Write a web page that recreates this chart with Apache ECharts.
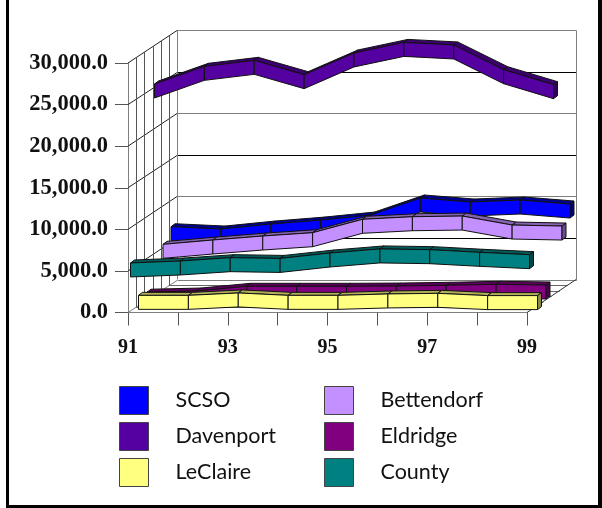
<!DOCTYPE html>
<html><head><meta charset="utf-8">
<style>html,body{margin:0;padding:0;background:#fff}#c{width:602px;height:508px}</style>
<script src="https://cdn.jsdelivr.net/npm/echarts@6/dist/echarts.min.js"></script>
</head><body><div id="c"></div>
<script>
const categories = ['91','92','93','94','95','96','97','98','99'];
const SCSO = [5990,5710,6310,6790,7390,9440,8960,9200,8720];
const Bettendorf = [4520,5040,5520,5920,7530,7840,7920,6840,6720];
const Davenport = [24490,26610,27330,25610,28220,29490,29180,26210,24410];
const Eldridge = [60,200,770,770,770,800,890,1010,925];
const LeClaire = [370,370,660,370,370,540,610,340,340];
const County = [4910,5150,5550,5460,6110,6600,6510,6190,5910];
const yTicks = [0,5000,10000,15000,20000,25000,30000];

const DEPTH_X = 49, DEPTH_Y = 33, THICK = 7, SIDE_X = 4, SIDE_Y = 3;
const styles = [
  {name:'SCSO',data:SCSO,dx:43,color:'#0000ff',top:'#000090',side:'#000070'},
  {name:'Bettendorf',data:Bettendorf,dx:35,color:'#c48fff',top:'#8562ad',side:'#6a4e8c'},
  {name:'Davenport',data:Davenport,dx:26.5,color:'#5500a0',top:'#3c0072',side:'#2e0058'},
  {name:'Eldridge',data:Eldridge,dx:19,color:'#800080',top:'#5c005c',side:'#480048'},
  {name:'LeClaire',data:LeClaire,dx:10.5,color:'#ffff80',top:'#b0b058',side:'#888844'},
  {name:'County',data:County,dx:2.5,color:'#008080',top:'#005a5a',side:'#004848'}
];

function line(x1,y1,x2,y2,stroke){
  return {type:'line',silent:true,shape:{x1,y1,x2,y2},style:{stroke,lineWidth:1,fill:null}};
}
function renderWalls(params, api){
  const kids = [];
  const grey='#7f7f7f';
  const snap=v=>Math.round(v)+0.5;
  const x0=api.coord([0,0])[0], xN=api.coord([categories.length-1,0])[0];
  const y0=api.coord([0,0])[1];
  const topFront=api.coord([0,30000])[1];
  const rx=xN+DEPTH_X;
  yTicks.forEach((t,i)=>{
    const y=api.coord([0,t])[1];
    const c=i%2===0?grey:'#000';
    const by=snap(y-DEPTH_Y);
    kids.push(line(x0,y,x0+DEPTH_X,by,i===0?grey:'#222'));
    kids.push(line(snap(x0+DEPTH_X),by,snap(rx),by,c));
  });
  kids.push(line(snap(rx),snap(topFront-DEPTH_Y),snap(rx),snap(y0-DEPTH_Y),grey));
  for(let s=1;s<=6;s++){
    const dx=DEPTH_X*s/6, dy=DEPTH_Y*s/6;
    const xx=snap(x0+dx);
    kids.push(line(xx,topFront-dy,xx,y0-dy,s===6?grey:'#555'));
    if(s<6){
      const fy=snap(y0-dy);
      kids.push(line(x0+dx,fy,xN+dx,fy,'#666'));
    }
  }
  kids.push(line(xN,y0,xN+DEPTH_X,y0-DEPTH_Y,'#333'));
  return {type:'group',children:kids};
}
function renderRibbon(st){
  return function(params, api){
    const i=api.value(0), v=api.value(1);
    const dy=st.dx*DEPTH_Y/DEPTH_X;
    const p=api.coord([i,v]);
    const x1=p[0]+st.dx, y1=p[1]-dy;
    const stroke={stroke:'#111',lineWidth:1,lineJoin:'round'};
    const kids=[];
    if(i<categories.length-1){
      const q=api.coord([i+1,st.data[i+1]]);
      const x2=q[0]+st.dx, y2=q[1]-dy;
      kids.push({type:'polygon',shape:{points:[[x1,y1-THICK],[x2,y2-THICK],[x2+SIDE_X,y2-THICK-SIDE_Y],[x1+SIDE_X,y1-THICK-SIDE_Y]]},style:{fill:st.top,...stroke}});
      kids.push({type:'polygon',shape:{points:[[x1,y1-THICK],[x2,y2-THICK],[x2,y2+THICK],[x1,y1+THICK]]},style:{fill:st.color,...stroke}});
    } else {
      kids.push({type:'polygon',shape:{points:[[x1,y1-THICK],[x1+SIDE_X,y1-THICK-SIDE_Y],[x1+SIDE_X,y1+THICK-SIDE_Y],[x1,y1+THICK]]},style:{fill:st.side,...stroke}});
    }
    return {type:'group',children:kids};
  };
}
const series=[{
  type:'custom',name:'walls',silent:true,z:1,clip:false,
  data:[[0,0]],encode:{x:0,y:1},renderItem:renderWalls
}];
styles.forEach((st,k)=>{
  series.push({
    type:'custom',name:st.name,z:2+k,clip:false,silent:true,
    itemStyle:{color:st.color},
    encode:{x:0,y:1},
    data:st.data.map((v,i)=>[i,v]),
    renderItem:renderRibbon(st)
  });
});
const legendBase={
  orient:'vertical',itemWidth:29,itemHeight:28,itemGap:7,top:386,selectedMode:false,padding:0,
  icon:'rect',
  itemStyle:{borderColor:'#444',borderWidth:1},
  textStyle:{fontFamily:'Lato',fontSize:21.5,color:'#111',padding:[2,0,0,22]}
};
const chart=echarts.init(document.getElementById('c'),null,{renderer:'canvas'});
chart.setOption({
  animation:false,
  backgroundColor:'#fff',
  graphic:[
    {type:'rect',z:100,silent:true,shape:{x:6,y:0,width:3,height:508},style:{fill:'#000'}},
    {type:'rect',z:100,silent:true,shape:{x:598,y:0,width:4,height:508},style:{fill:'#000'}},
    {type:'rect',z:100,silent:true,shape:{x:6,y:505,width:596,height:3},style:{fill:'#000'}}
  ],
  grid:{left:128,top:63,width:399,height:249.5,containLabel:false},
  xAxis:{
    type:'category',boundaryGap:false,data:categories,
    axisLine:{show:true,lineStyle:{color:'#7f7f7f',width:1}},
    axisTick:{show:true,length:13,interval:0,lineStyle:{color:'#555'}},
    axisLabel:{interval:1,margin:25,fontFamily:'Liberation Serif',fontWeight:'bold',fontSize:20,color:'#111'},
    splitLine:{show:false}
  },
  yAxis:{
    type:'value',min:0,max:30000,interval:5000,
    axisLine:{show:true,lineStyle:{color:'#7f7f7f',width:1}},
    axisTick:{show:true,length:13,lineStyle:{color:'#555'}},
    axisLabel:{margin:20,fontFamily:'Liberation Serif',fontWeight:'bold',fontSize:22.5,color:'#111',padding:[6,0,0,0],
      formatter:v=>v.toLocaleString('en-US',{minimumFractionDigits:1,maximumFractionDigits:1})},
    splitLine:{show:false}
  },
  legend:[
    {...legendBase,left:119,data:['SCSO','Davenport','LeClaire']},
    {...legendBase,left:324,data:['Bettendorf','Eldridge','County']}
  ],
  series
});
</script></body></html>
